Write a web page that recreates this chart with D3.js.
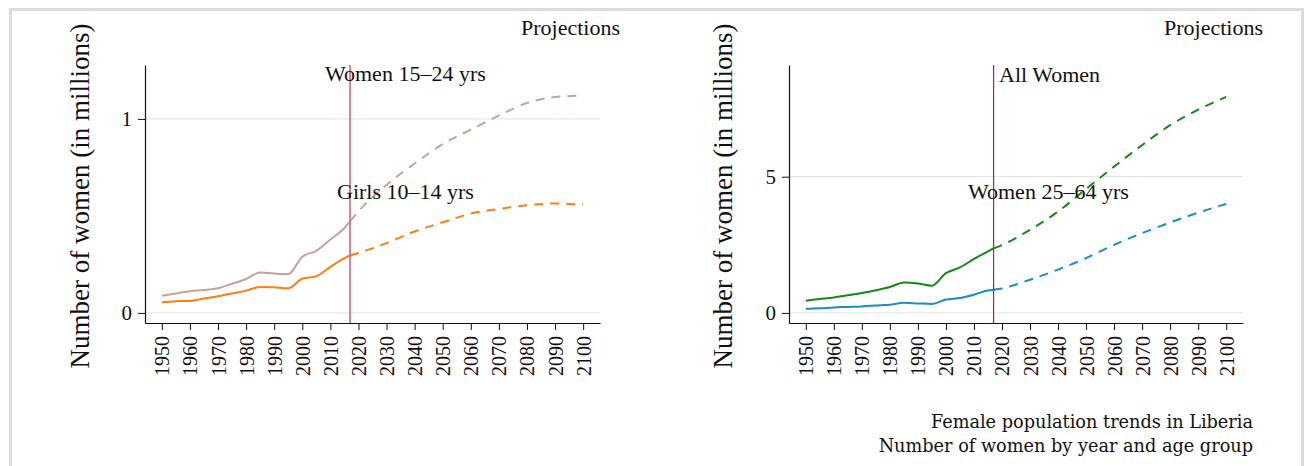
<!DOCTYPE html>
<html>
<head>
<meta charset="utf-8">
<script src="https://cdn.jsdelivr.net/npm/d3@7"></script>
<style>
  body { margin: 0; background: #fff; }
  svg { display: block; }
  text { font-family: "Liberation Serif", serif; fill: #111; }
</style>
</head>
<body>
<script>
// Historical estimates and projections, millions of women
const histYears = [1950, 1955, 1960, 1965, 1970, 1975, 1980, 1985, 1990, 1995, 2000, 2005, 2010, 2015, 2017];
const projYears = [2017, 2020, 2030, 2040, 2050, 2060, 2070, 2080, 2090, 2100];

const women1524Hist = [0.089, 0.100, 0.112, 0.118, 0.127, 0.150, 0.175, 0.208, 0.203, 0.200, 0.290, 0.320, 0.378, 0.438, 0.472];
const women1524Proj = [0.472, 0.524, 0.660, 0.770, 0.870, 0.945, 1.017, 1.082, 1.113, 1.120];
const girls1014Hist = [0.055, 0.060, 0.062, 0.074, 0.086, 0.100, 0.115, 0.134, 0.132, 0.127, 0.177, 0.189, 0.237, 0.282, 0.296];
const girls1014Proj = [0.296, 0.309, 0.360, 0.420, 0.467, 0.512, 0.536, 0.555, 0.564, 0.558];

const allWomenHist = [0.45, 0.51, 0.57, 0.65, 0.73, 0.83, 0.95, 1.12, 1.08, 1.00, 1.46, 1.67, 1.98, 2.26, 2.37];
const allWomenProj = [2.37, 2.49, 3.05, 3.72, 4.55, 5.37, 6.16, 6.89, 7.46, 7.93];
const women2564Hist = [0.15, 0.17, 0.20, 0.22, 0.24, 0.27, 0.30, 0.37, 0.35, 0.33, 0.49, 0.55, 0.67, 0.82, 0.85];
const women2564Proj = [0.85, 0.90, 1.22, 1.59, 2.01, 2.50, 2.93, 3.32, 3.68, 4.00];

const xTicks = d3.range(1950, 2101, 10);
const cutYear = 2017;

const W = 1306, H = 466;
const svg = d3.select("body").append("svg").attr("width", W).attr("height", H);

// outer frame
svg.append("rect").attr("x", 10.5).attr("y", 9.5).attr("width", 1292).attr("height", 470)
  .attr("fill", "#fff").attr("stroke", "#dcdcdc").attr("stroke-width", 3);

// title (only its descenders show at the top edge in the source)
svg.append("text").attr("x", 653).attr("y", -6).attr("text-anchor", "middle")
  .style("font-weight", "bold").style("font-size", "22px")
  .text("Changing female population of Liberia by age group");

const panels = [
  {
    left: 145, right: 600, yDomain: [-0.052, 1.278], yTicks: [0, 1],
    vline: "#d9607f", vwidth: 1.6, labelX: 80,
    series: [
      { name: "Women 15–24 yrs", hist: women1524Hist, proj: women1524Proj, color: "#c4a49a", lx: 325, ly: 81 },
      { name: "Girls 10–14 yrs", hist: girls1014Hist, proj: girls1014Proj, color: "#ff7f0e", lx: 337, ly: 199 }
    ]
  },
  {
    left: 789, right: 1243, yDomain: [-0.37, 9.1], yTicks: [0, 5],
    vline: "#c8163c", vwidth: 1.2, labelX: 723,
    series: [
      { name: "All Women", hist: allWomenHist, proj: allWomenProj, color: "#17891a", lx: 999, ly: 82 },
      { name: "Women 25–64 yrs", hist: women2564Hist, proj: women2564Proj, color: "#1a8dc2", lx: 968, ly: 199 }
    ]
  }
];

const plotTop = 65, plotBottom = 323;

panels.forEach(p => {
  const x = d3.scaleLinear().domain([1944, 2106]).range([p.left, p.right]);
  const y = d3.scaleLinear().domain(p.yDomain).range([plotBottom, plotTop]);
  const g = svg.append("g");

  // gridlines
  g.selectAll(".grid").data(p.yTicks).join("line")
    .attr("x1", p.left).attr("x2", p.right)
    .attr("y1", d => y(d)).attr("y2", d => y(d))
    .attr("stroke", "#e2e2e2").attr("stroke-width", 1);

  // y axis
  const ya = g.append("g").attr("transform", `translate(${p.left},0)`)
    .call(d3.axisLeft(y).tickValues(p.yTicks).tickSize(7).tickSizeOuter(0).tickPadding(6).tickFormat(d3.format("d")));
  ya.select(".domain").attr("stroke", "#111").attr("stroke-width", 1.2);
  ya.selectAll(".tick line").attr("stroke", "#111");
  ya.selectAll("text").style("font-size", "21px").style("font-family", "Liberation Serif");

  // x axis
  const xa = g.append("g").attr("transform", `translate(0,${plotBottom})`)
    .call(d3.axisBottom(x).tickValues(xTicks).tickSize(7).tickSizeOuter(0).tickFormat(d3.format("d")));
  xa.select(".domain").attr("stroke", "#111").attr("stroke-width", 1.2);
  xa.selectAll(".tick line").attr("stroke", "#111");
  xa.selectAll("text")
    .attr("transform", "rotate(-90)")
    .attr("x", -13).attr("y", 0).attr("dy", "0.35em")
    .style("text-anchor", "end").style("font-size", "20px").style("font-family", "Liberation Serif");

  // y label
  g.append("text")
    .attr("transform", `translate(${p.labelX},196) rotate(-90)`)
    .attr("text-anchor", "middle").attr("dy", "0.35em")
    .style("font-size", "27px")
    .text("Number of women (in millions)");

  // lines
  const line = d3.line().x(d => x(d[0])).y(d => y(d[1])).curve(d3.curveMonotoneX);
  p.series.forEach(s => {
    g.append("path").datum(histYears.map((yr, i) => [yr, s.hist[i]]))
      .attr("d", line).attr("fill", "none").attr("stroke", s.color).attr("stroke-width", 2);
    g.append("path").datum(projYears.map((yr, i) => [yr, s.proj[i]]))
      .attr("d", line).attr("fill", "none").attr("stroke", s.color).attr("stroke-width", 2)
      .attr("stroke-dasharray", "9,7");
  });

  // base year marker
  g.append("line").attr("x1", x(cutYear)).attr("x2", x(cutYear)).attr("y1", plotTop).attr("y2", plotBottom)
    .attr("stroke", p.vline).attr("stroke-width", p.vwidth);

  // labels
  p.series.forEach(s => {
    g.append("text").attr("x", s.lx).attr("y", s.ly).style("font-size", "22px").text(s.name);
  });
  g.append("text").attr("x", p.right + 20).attr("y", 35).attr("text-anchor", "end")
    .style("font-size", "22px").text("Projections");
});

// footer
const foot = ["Female population trends in Liberia", "Number of women by year and age group"];
svg.selectAll(".foot").data(foot).join("text")
  .attr("x", 1253).attr("y", (d, i) => 428 + i * 24)
  .attr("text-anchor", "end")
  .style("font-family", "DejaVu Serif").style("font-size", "17.7px")
  .text(d => d);
</script>
</body>
</html>
